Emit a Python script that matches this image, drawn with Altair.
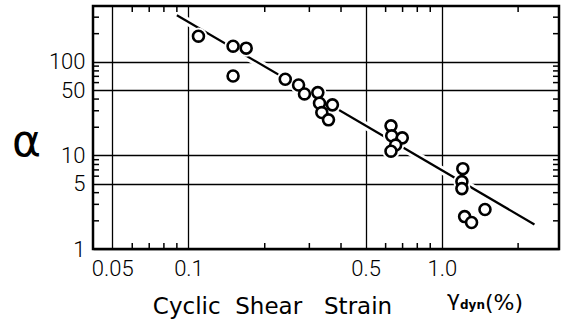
import altair as alt
import pandas as pd

# ---- data ----
strain = [0.1095, 0.150, 0.169, 0.150,
          0.241, 0.272, 0.287, 0.324, 0.329, 0.370, 0.336, 0.357,
          0.630, 0.634, 0.698, 0.657, 0.630,
          1.21, 1.20, 1.20, 1.48, 1.23, 1.31]
alpha = [188, 147, 140, 70.6,
         65.1, 56.6, 45.4, 46.9, 36.1, 34.7, 28.7, 24.0,
         20.7, 16.2, 15.4, 12.9, 11.1,
         7.22, 5.25, 4.42, 2.64, 2.22, 1.92]

fit_strain = [0.090, 2.32]
fit_alpha = [315, 1.83]

x_tick_values = [0.05, 0.1, 0.5, 1.0]
x_tick_labels = ["0.05", "0.1", "0.5", "1.0"]
y_tick_values = [1, 5, 10, 50, 100]
y_tick_labels = ["1", "5", "10", "50", "100"]

x_minor = [0.06, 0.07, 0.08, 0.09, 0.2, 0.3, 0.4, 0.6, 0.7, 0.8, 0.9, 2]
y_minor = [2, 3, 4, 6, 7, 8, 9, 20, 30, 40, 60, 70, 80, 90, 200, 300]

x_domain = [0.042, 2.9]
y_domain = [1, 395]

W, H = 466, 243
NB = "\u00a0"


def label_expr(vals, labels):
    expr = "''"
    for v, l in zip(vals, labels):
        expr = f"abs(datum.value - {v}) < 1e-9 ? '{l}' : ({expr})"
    return expr


pts = pd.DataFrame({"x": strain, "y": alpha})
fit = pd.DataFrame({"x": fit_strain, "y": fit_alpha})
xm = pd.DataFrame({"x": x_minor})
ym = pd.DataFrame({"y": y_minor})

xs = alt.Scale(type="log", domain=x_domain, nice=False)
ys = alt.Scale(type="log", domain=y_domain, nice=False)

xaxis = alt.Axis(
    values=x_tick_values, labelExpr=label_expr(x_tick_values, x_tick_labels),
    ticks=False, domain=False, grid=True, gridColor="black", gridWidth=1.3,
    gridOpacity=1, labelFont="Roboto", labelFontSize=22, labelFontWeight=300,
    labelColor="black", labelPadding=9, labelFlush=False,
    title="Cyclic" + NB * 2 + "Shear" + NB * 3 + "Strain",
    titleFont="DejaVu Sans", titleFontSize=23,
    titleFontWeight="normal", titleColor="black", titleX=179, titleY=64,
    titleAlign="center", titleBaseline="alphabetic",
)
yaxis = alt.Axis(
    values=y_tick_values, labelExpr=label_expr(y_tick_values, y_tick_labels),
    ticks=False, domain=False, grid=True, gridColor="black", gridWidth=1.3,
    gridOpacity=1, labelFont="Roboto", labelFontSize=22, labelFontWeight=300,
    labelColor="black", labelPadding=8, labelFlush=False,
    title="α", titleFont="DejaVu Sans", titleFontSize=44, titleFontWeight="normal",
    titleColor="black", titleAngle=0, titleX=-67, titleY=149,
    titleAlign="center", titleBaseline="alphabetic",
)

X = lambda f="x": alt.X(f"{f}:Q", scale=xs, axis=xaxis)
Y = lambda f="y": alt.Y(f"{f}:Q", scale=ys, axis=yaxis)

line_halo = alt.Chart(fit).mark_line(color="white", strokeWidth=8).encode(x=X(), y=Y())
line = alt.Chart(fit).mark_line(color="black", strokeWidth=2.2).encode(x=X(), y=Y())
pt_halo = alt.Chart(pts).mark_point(shape="circle", filled=True, color="white",
                                    size=300, opacity=1).encode(x=X(), y=Y())
points = alt.Chart(pts).mark_point(shape="circle", filled=False, fill="white",
                                   fillOpacity=1, stroke="black", strokeWidth=2.6,
                                   size=120, opacity=1).encode(x=X(), y=Y())

tick_style = dict(color="black", strokeWidth=1.5)
bot_ticks = alt.Chart(xm).mark_rule(**tick_style).encode(
    x=X(), y=alt.value(H), y2=alt.value(H - 6))
top_ticks = alt.Chart(xm).mark_rule(**tick_style).encode(
    x=X(), y=alt.value(0), y2=alt.value(6))
left_ticks = alt.Chart(ym).mark_rule(**tick_style).encode(
    y=Y(), x=alt.value(0), x2=alt.value(6))
right_ticks = alt.Chart(ym).mark_rule(**tick_style).encode(
    y=Y(), x=alt.value(W), x2=alt.value(W - 6))

unit_gamma = alt.Chart(pd.DataFrame({"t": ["γ"]})).mark_text(
    font="DejaVu Sans", fontSize=22, align="left", baseline="alphabetic",
    color="black").encode(text="t:N", x=alt.value(354), y=alt.value(300))
unit_sub = alt.Chart(pd.DataFrame({"t": ["dyn"]})).mark_text(
    font="DejaVu Sans", fontSize=12, fontWeight="bold", align="left",
    baseline="alphabetic", color="black").encode(
    text="t:N", x=alt.value(367), y=alt.value(303))
unit_pct = alt.Chart(pd.DataFrame({"t": ["(%)"]})).mark_text(
    font="DejaVu Sans", fontSize=22, align="left", baseline="alphabetic",
    color="black").encode(text="t:N", x=alt.value(392), y=alt.value(304))

chart = alt.layer(
    line_halo, line, pt_halo, points,
    bot_ticks, top_ticks, left_ticks, right_ticks,
    unit_gamma, unit_sub, unit_pct,
).properties(
    width=W, height=H,
    autosize=alt.AutoSizeParams(type="none"),
    padding={"left": 93, "top": 6, "right": 2, "bottom": 75},
    background="white",
).configure_view(stroke="black", strokeWidth=2.5)

chart.save("out.html", embed_options={"renderer": "svg", "actions": False})
